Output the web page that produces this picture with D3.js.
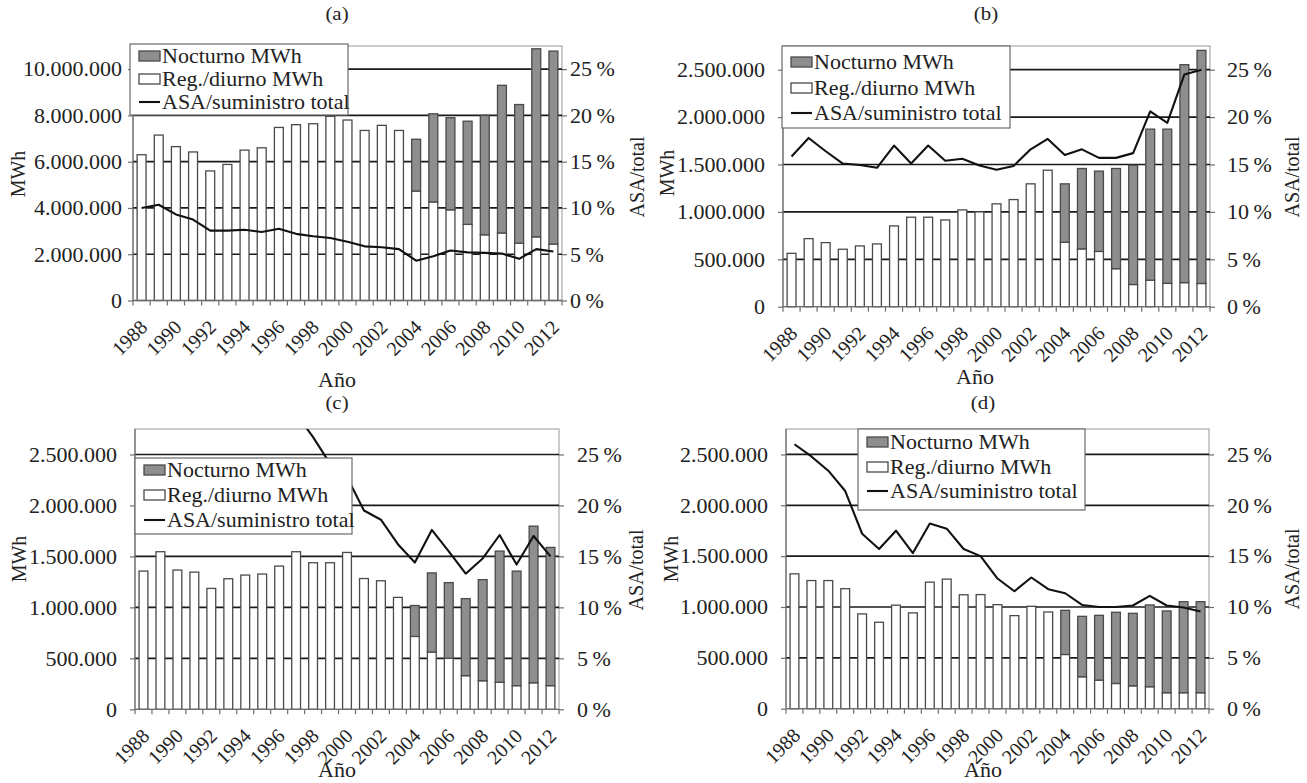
<!DOCTYPE html>
<html><head><meta charset="utf-8">
<script src="https://cdn.jsdelivr.net/npm/d3@7"></script>
<style>
body{margin:0;background:#fff}
text{font-family:"Liberation Serif","Times New Roman",serif;fill:#222}
</style>
</head><body>
<svg id="c" width="1307" height="783"></svg>
<script>
// ---------------- DATA ----------------
const years = [1988,1989,1990,1991,1992,1993,1994,1995,1996,1997,1998,1999,2000,2001,2002,2003,2004,2005,2006,2007,2008,2009,2010,2011,2012];
const xTickLabels = [1988,1990,1992,1994,1996,1998,2000,2002,2004,2006,2008,2010,2012];
const ticksA = [0,2000000,4000000,6000000,8000000,10000000];
const ticksBCD = [0,500000,1000000,1500000,2000000,2500000];
const pctTicks = [0,5,10,15,20,25];
const legendLabels = ["Nocturno MWh","Reg./diurno MWh","ASA/suministro total"];

// (a)
const aDay   = [6300000,7150000,6650000,6420000,5600000,5880000,6500000,6600000,7480000,7600000,7640000,7960000,7800000,7350000,7570000,7350000,4730000,4260000,3920000,3290000,2840000,2920000,2480000,2750000,2440000];
const aNight = [0,0,0,0,0,0,0,0,0,0,0,0,0,0,0,0,2240000,3810000,3980000,4460000,5160000,6380000,5990000,8130000,8340000];
const aPct   = [10.0,10.35,9.3,8.75,7.55,7.55,7.65,7.4,7.75,7.2,6.95,6.75,6.35,5.85,5.75,5.55,4.3,4.78,5.4,5.2,5.15,5.07,4.5,5.55,5.3];
// (b)
const bDay   = [563000,718000,676000,606000,641000,662000,852000,944000,944000,915000,1021000,1000000,1085000,1130000,1296000,1440000,680000,610000,583000,401000,234000,280000,246000,254000,245000];
const bNight = [0,0,0,0,0,0,0,0,0,0,0,0,0,0,0,0,616000,848000,847000,1057000,1258000,1593000,1627000,2299000,2459000];
const bPct   = [15.85,17.8,16.4,15.1,14.95,14.65,17.0,15.1,17.0,15.4,15.6,14.9,14.45,14.85,16.6,17.7,16.0,16.6,15.7,15.7,16.2,20.6,19.4,24.5,25.0];
// (c)
const cDay   = [1356000,1546000,1366000,1346000,1186000,1281000,1317000,1327000,1405000,1546000,1438000,1438000,1539000,1283000,1261000,1098000,715000,562000,500000,330000,280000,265000,232000,260000,232000];
const cNight = [0,0,0,0,0,0,0,0,0,0,0,0,0,0,0,0,303000,776000,743000,756000,992000,1287000,1124000,1537000,1356000];
const cPct   = [34,33.5,33,32.5,32,31.5,31,30.5,30,29.0,26.7,24.1,22.8,19.5,18.6,16.2,14.4,17.6,15.5,13.3,14.8,17.1,14.2,17.0,15.0];
// (d)
const dDay   = [1326000,1260000,1260000,1180000,932000,850000,1018000,942000,1244000,1274000,1120000,1122000,1023000,915000,1007000,951000,533000,314000,281000,248000,225000,216000,157000,157000,157000];
const dNight = [0,0,0,0,0,0,0,0,0,0,0,0,0,0,0,0,434000,594000,637000,700000,713000,804000,804000,895000,895000];
const dPct   = [26.0,24.8,23.4,21.4,17.2,15.7,17.5,15.3,18.2,17.7,15.7,15.0,12.8,11.55,12.9,11.75,11.35,10.2,10.0,10.0,10.15,11.1,10.15,9.95,9.55];

// ---------------- DRAW ----------------
const svg = d3.select("#c");
const S = 1.1; // horizontal stretch of the reference lettering
const fmtL = d3.formatLocale({decimal:",", thousands:".", grouping:[3], currency:["",""]}).format(",");
const fmtP = d => d + "\u2009%";

function panel(p){
  const g = svg.append("g");
  const x = d3.scaleBand().domain(years).range([p.left,p.right]).paddingInner(0.48).paddingOuter(0.24);
  const step = x.step();
  const yL = d3.scaleLinear().domain([0,p.maxL]).range([p.bottom,p.top]);
  const yR = d3.scaleLinear().domain([0,27.5]).range([p.bottom,p.top]);
  const clipId = "clip"+p.name;
  g.append("clipPath").attr("id",clipId).append("rect")
    .attr("x",p.left).attr("y",p.top).attr("width",p.right-p.left).attr("height",p.bottom-p.top);

  // plot border
  g.append("rect").attr("x",p.left).attr("y",p.top).attr("width",p.right-p.left).attr("height",p.bottom-p.top)
    .attr("fill","none").attr("stroke","#a8a8a8").attr("stroke-width",1.2);
  // gridlines
  g.selectAll(null).data(p.ticksL.filter(v=>v>0)).join("line")
    .attr("x1",p.left).attr("x2",p.right).attr("y1",d=>yL(d)).attr("y2",d=>yL(d))
    .attr("stroke","#1a1a1a").attr("stroke-width",1.7);

  // stacked bars
  const rows = years.map((yr,i)=>({year:yr, day:p.day[i], night:p.night[i]}));
  const series = d3.stack().keys(["day","night"])(rows);
  series.forEach((s,k)=>{
    g.selectAll(null).data(s.filter(d=>d[1]-d[0]>0)).join("rect")
      .attr("x",d=>x(d.data.year)).attr("y",d=>yL(d[1]))
      .attr("width",x.bandwidth()).attr("height",d=>yL(d[0])-yL(d[1]))
      .attr("fill",k===0?"#ffffff":"#8e8e8e")
      .attr("stroke","#4a4a4a").attr("stroke-width",1.3);
  });

  // line
  const line = d3.line().x((d,i)=>x(years[i])+x.bandwidth()/2).y(d=>yR(d));
  g.append("path").datum(p.pct).attr("d",line).attr("clip-path","url(#"+clipId+")")
    .attr("fill","none").attr("stroke","#111").attr("stroke-width",2.1).attr("stroke-linejoin","round");

  // bottom axis line & boundary ticks
  g.append("line").attr("x1",p.left).attr("x2",p.right).attr("y1",p.bottom).attr("y2",p.bottom)
    .attr("stroke","#6e6e6e").attr("stroke-width",1.3);
  g.selectAll(null).data(d3.range(years.length+1)).join("line")
    .attr("x1",i=>p.left+i*step).attr("x2",i=>p.left+i*step)
    .attr("y1",p.bottom).attr("y2",p.bottom+5).attr("stroke","#6e6e6e").attr("stroke-width",1.2);
  g.append("line").attr("x1",p.left).attr("x2",p.left).attr("y1",p.top).attr("y2",p.bottom)
    .attr("stroke","#6e6e6e").attr("stroke-width",1.2);

  // x labels
  const ax = g.append("g").attr("transform",`translate(0,${p.bottom})`)
    .call(d3.axisBottom(x).tickValues(xTickLabels).tickSize(0));
  ax.select(".domain").remove();
  ax.selectAll("text").attr("x",0).attr("y",0).attr("dy",0)
    .attr("text-anchor","end").attr("font-size",20).attr("fill","#222")
    .attr("font-family",'"Liberation Serif",serif')
    .attr("transform","translate(7,28) rotate(-45)");

  // left axis
  const al = g.append("g").attr("transform",`translate(${p.left},0)`)
    .call(d3.axisLeft(yL).tickValues(p.ticksL).tickSize(5).tickPadding(0).tickFormat(fmtL));
  al.select(".domain").remove();
  al.selectAll("line").attr("stroke","#6e6e6e").attr("stroke-width",1.2);
  al.selectAll("text").attr("x",-p.lgap/S).attr("dy","0.34em").attr("font-size",20).attr("fill","#222")
    .attr("font-family",'"Liberation Serif",serif').attr("transform",`scale(${S},1)`);

  // right axis
  const ar = g.append("g").attr("transform",`translate(${p.right},0)`)
    .call(d3.axisRight(yR).tickValues(pctTicks).tickSize(5).tickPadding(0).tickFormat(fmtP));
  ar.select(".domain").remove();
  ar.selectAll("line").attr("stroke","#6e6e6e").attr("stroke-width",1.2);
  ar.selectAll("text").attr("x",p.rgap/S).attr("dy","0.34em").attr("font-size",20).attr("fill","#222")
    .attr("font-family",'"Liberation Serif",serif').attr("transform",`scale(${S},1)`);

  // titles
  g.append("text").attr("transform",`translate(${p.titleX},${p.titleY}) scale(${S},1)`)
    .attr("text-anchor","middle").attr("font-size",19).text(p.title);
  g.append("text").attr("transform",`translate(${p.mwhX},${p.mwhY}) rotate(-90)`)
    .attr("text-anchor","middle").attr("dy","0.35em").attr("font-size",20).text("MWh");
  g.append("text").attr("transform",`translate(${p.asaX},${p.asaY}) rotate(-90)`)
    .attr("text-anchor","middle").attr("dy","0.35em").attr("font-size",20).text("ASA/total");
  g.append("text").attr("transform",`translate(${p.anoX},${p.anoY}) scale(${S},1)`)
    .attr("text-anchor","middle").attr("font-size",20).text("Año");

  // legend
  const L = p.legend;
  const lg = g.append("g");
  lg.append("rect").attr("x",L.x).attr("y",L.y).attr("width",L.w).attr("height",L.h)
    .attr("fill","#fff").attr("stroke","#6a6a6a").attr("stroke-width",1.2);
  lg.append("rect").attr("x",L.x+9).attr("y",L.rows[0]-5).attr("width",21).attr("height",10)
    .attr("fill","#8e8e8e").attr("stroke","#4a4a4a").attr("stroke-width",1.3);
  lg.append("rect").attr("x",L.x+9).attr("y",L.rows[1]-5).attr("width",21).attr("height",10)
    .attr("fill","#fff").attr("stroke","#4a4a4a").attr("stroke-width",1.3);
  lg.append("line").attr("x1",L.x+9).attr("x2",L.x+30).attr("y1",L.rows[2]).attr("y2",L.rows[2])
    .attr("stroke","#111").attr("stroke-width",2.1);
  legendLabels.forEach((t,i)=>{
    lg.append("text").attr("transform",`translate(${L.x+32},${L.rows[i]}) scale(${S},1)`)
      .attr("dy","0.35em").attr("font-size",20).text(t);
  });
}

panel({name:"a", day:aDay, night:aNight, pct:aPct, left:133, right:562, top:46, bottom:300.5, maxL:11000000, ticksL:ticksA,
  lgap:11, rgap:8, title:"(a)", titleX:337, titleY:20, mwhX:18, mwhY:174, asaX:637, asaY:177, anoX:337, anoY:387,
  legend:{x:130,y:44,w:218,h:71,rows:[56,79,102]}});
panel({name:"b", day:bDay, night:bNight, pct:bPct, left:783, right:1210, top:46, bottom:306.7, maxL:2750000, ticksL:ticksBCD,
  lgap:18, rgap:17, title:"(b)", titleX:986, titleY:20, mwhX:667, mwhY:173, asaX:1292, asaY:177, anoX:975, anoY:384,
  legend:{x:782,y:46,w:228,h:82,rows:[62,88,113]}});
panel({name:"c", day:cDay, night:cNight, pct:cPct, left:135, right:559, top:429, bottom:709.3, maxL:2750000, ticksL:ticksBCD,
  lgap:18, rgap:18, title:"(c)", titleX:337, titleY:409, mwhX:19, mwhY:559, asaX:636, asaY:570, anoX:337, anoY:777,
  legend:{x:135,y:458,w:217,h:76,rows:[470,495,520]}});
panel({name:"d", day:dDay, night:dNight, pct:dPct, left:786, right:1209, top:429, bottom:708.7, maxL:2750000, ticksL:ticksBCD,
  lgap:18, rgap:18, title:"(d)", titleX:983, titleY:409, mwhX:671, mwhY:559, asaX:1292, asaY:569, anoX:983, anoY:777,
  legend:{x:858,y:429,w:227,h:81,rows:[442,467,491]}});
</script>
</body></html>
